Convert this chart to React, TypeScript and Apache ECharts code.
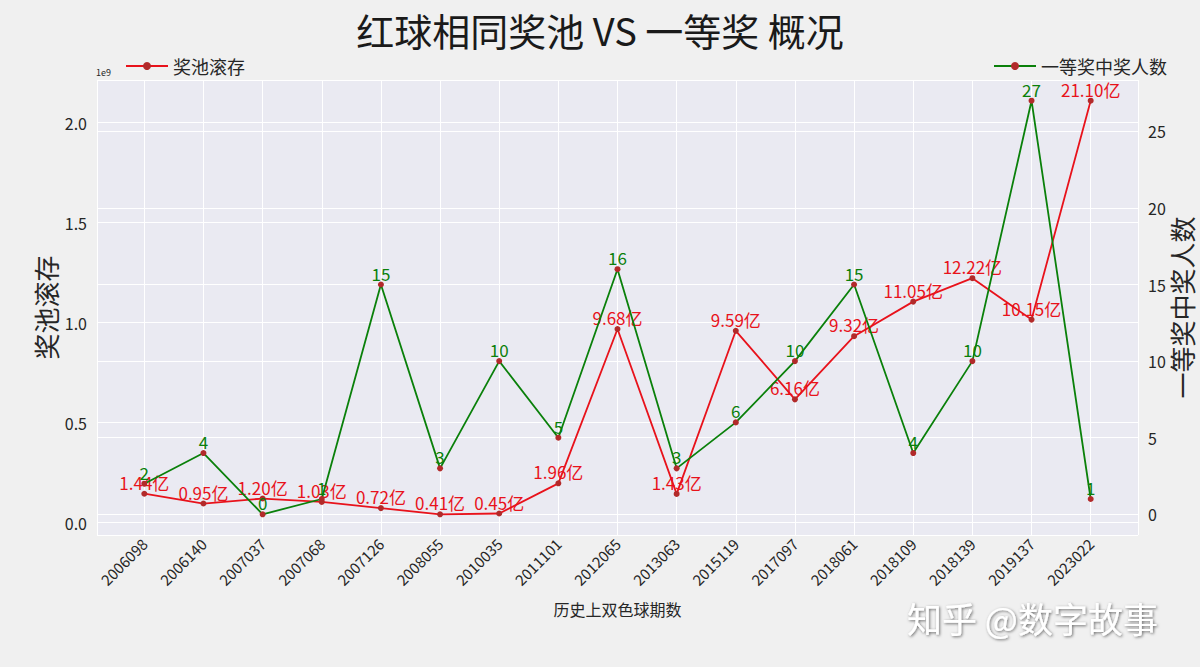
import React, { useEffect, useRef } from "react";
import * as echarts from "echarts";

const periods = ["2006098", "2006140", "2007037", "2007068", "2007126", "2008055", "2010035", "2011101", "2012065", "2013063", "2015119", "2017097", "2018061", "2018109", "2018139", "2019137", "2023022"];
// prize pool rollover, in 亿 (1e8 yuan)
const poolYi = [1.44, 0.95, 1.2, 1.03, 0.72, 0.41, 0.45, 1.96, 9.68, 1.43, 9.59, 6.16, 9.32, 11.05, 12.22, 10.15, 21.1];
// number of first-prize winners
const winners = [2, 4, 0, 1, 15, 3, 10, 5, 16, 3, 6, 10, 15, 4, 10, 27, 1];

const FONT = "'Noto Sans CJK SC', 'Noto Sans', sans-serif";
const RED = "#e8121b";
const GREEN = "#0a800a";
const MARK = "#b22a2a";
const TXT = "#262626";

export default function App() {
  const ref = useRef<HTMLDivElement>(null);
  useEffect(() => {
    const chart = echarts.init(ref.current!, null, { renderer: "svg" });
    // matplotlib-like 5% margins
    const n = periods.length;
    const xPad = (n - 1) * 0.05;
    const poolE9 = poolYi.map((v) => v / 10);
    const pMin = Math.min(...poolE9), pMax = Math.max(...poolE9);
    const pPad = (pMax - pMin) * 0.05;
    const wMin = Math.min(...winners), wMax = Math.max(...winners);
    const wPad = (wMax - wMin) * 0.05;

    chart.setOption({
      animation: false,
      backgroundColor: "#f0f0f0",
      textStyle: { fontFamily: FONT },
      title: {
        text: "红球相同奖池 VS 一等奖 概况",
        left: "center",
        top: 5,
        textStyle: { fontFamily: FONT, fontSize: 38, fontWeight: "normal", color: "#1a1a1a" },
      },
      legend: [
        {
          data: ["奖池滚存"],
          left: 120,
          top: 52,
          itemWidth: 42,
          itemHeight: 10,
          itemGap: 8,
          textStyle: { fontFamily: FONT, fontSize: 18, color: TXT },
        },
        {
          data: ["一等奖中奖人数"],
          right: 28,
          top: 52,
          itemWidth: 42,
          itemHeight: 10,
          textStyle: { fontFamily: FONT, fontSize: 18, color: TXT },
        },
      ],
      grid: {
        left: 97,
        right: 62,
        top: 80,
        bottom: 132,
        show: true,
        backgroundColor: "#eaeaf2",
        borderWidth: 0,
        containLabel: false,
        outerBoundsMode: "none",
      },
      xAxis: {
        type: "value",
        min: -xPad,
        max: n - 1 + xPad,
        minInterval: 1,
        maxInterval: 1,
        name: "历史上双色球期数",
        nameLocation: "middle",
        nameGap: 66,
        nameTextStyle: { fontFamily: FONT, fontSize: 16, color: TXT },
        axisLine: { show: false },
        axisTick: { show: false },
        splitLine: { show: true, lineStyle: { color: "#ffffff", width: 1 } },
        axisLabel: {
          rotate: 45,
          fontSize: 15,
          color: TXT,
          fontFamily: FONT,
          margin: 6,
          showMinLabel: false,
          showMaxLabel: false,
          formatter: (v: number) => (Number.isInteger(v) && periods[v] ? periods[v] : ""),
        },
      },
      yAxis: [
        {
          type: "value",
          min: pMin - pPad,
          max: pMax + pPad,
          minInterval: 0.5,
          maxInterval: 0.5,
          name: "奖池滚存",
          nameLocation: "middle",
          nameGap: 39,
          nameRotate: 90,
          nameMoveOverlap: false,
          nameTextStyle: { fontFamily: FONT, fontSize: 26, color: TXT },
          axisLine: { show: false },
          axisTick: { show: false },
          splitLine: { show: true, lineStyle: { color: "#ffffff", width: 1 } },
          axisLabel: {
            fontSize: 16,
            color: TXT,
            fontFamily: FONT,
            margin: 10,
            showMinLabel: false,
            showMaxLabel: false,
            formatter: (v: number) => v.toFixed(1),
          },
        },
        {
          type: "value",
          min: wMin - wPad,
          max: wMax + wPad,
          minInterval: 5,
          maxInterval: 5,
          name: "一等奖中奖人数",
          nameLocation: "middle",
          nameGap: 30,
          nameRotate: 90,
          nameMoveOverlap: false,
          nameTextStyle: { fontFamily: FONT, fontSize: 26, color: TXT },
          axisLine: { show: false },
          axisTick: { show: false },
          splitLine: { show: true, lineStyle: { color: "#ffffff", width: 1 } },
          axisLabel: {
            fontSize: 16,
            color: TXT,
            fontFamily: FONT,
            margin: 10,
            showMinLabel: false,
            showMaxLabel: false,
            formatter: (v: number) => (Number.isInteger(v) ? String(v) : ""),
          },
        },
      ],
      graphic: [
        {
          type: "text",
          left: 96,
          top: 68,
          style: { text: "1e9", fontSize: 9, fill: TXT, fontFamily: FONT },
        },
        {
          type: "text",
          left: 907,
          top: 600,
          z: 100,
          style: {
            text: "知乎 @数字故事",
            fontSize: 35,
            fill: "#ffffff",
            fontFamily: FONT,
            textShadowColor: "rgba(0,0,0,0.55)",
            textShadowBlur: 3,
            textShadowOffsetX: 1,
            textShadowOffsetY: 1,
          },
        },
      ],
      series: [
        {
          name: "奖池滚存",
          type: "line",
          yAxisIndex: 0,
          data: poolE9.map((v, i) => [i, v]),
          symbol: "circle",
          symbolSize: 6,
          itemStyle: { color: MARK },
          lineStyle: { color: RED, width: 1.8 },
          label: {
            show: true,
            position: "top",
            distance: 0,
            color: RED,
            fontSize: 17,
            fontFamily: FONT,
            formatter: (p: any) => poolYi[p.dataIndex].toFixed(2) + "亿",
          },
          z: 2,
        },
        {
          name: "一等奖中奖人数",
          type: "line",
          yAxisIndex: 1,
          data: winners.map((v, i) => [i, v]),
          symbol: "circle",
          symbolSize: 6,
          itemStyle: { color: MARK },
          lineStyle: { color: GREEN, width: 1.8 },
          label: {
            show: true,
            position: "top",
            distance: 0,
            color: GREEN,
            fontSize: 17,
            fontFamily: FONT,
            formatter: (p: any) => String(winners[p.dataIndex]),
          },
          z: 3,
        },
      ],
    });
    return () => chart.dispose();
  }, []);
  return (
    <div
      ref={ref}
      style={{ position: "fixed", left: 0, top: 0, width: 1200, height: 667 }}
    />
  );
}
